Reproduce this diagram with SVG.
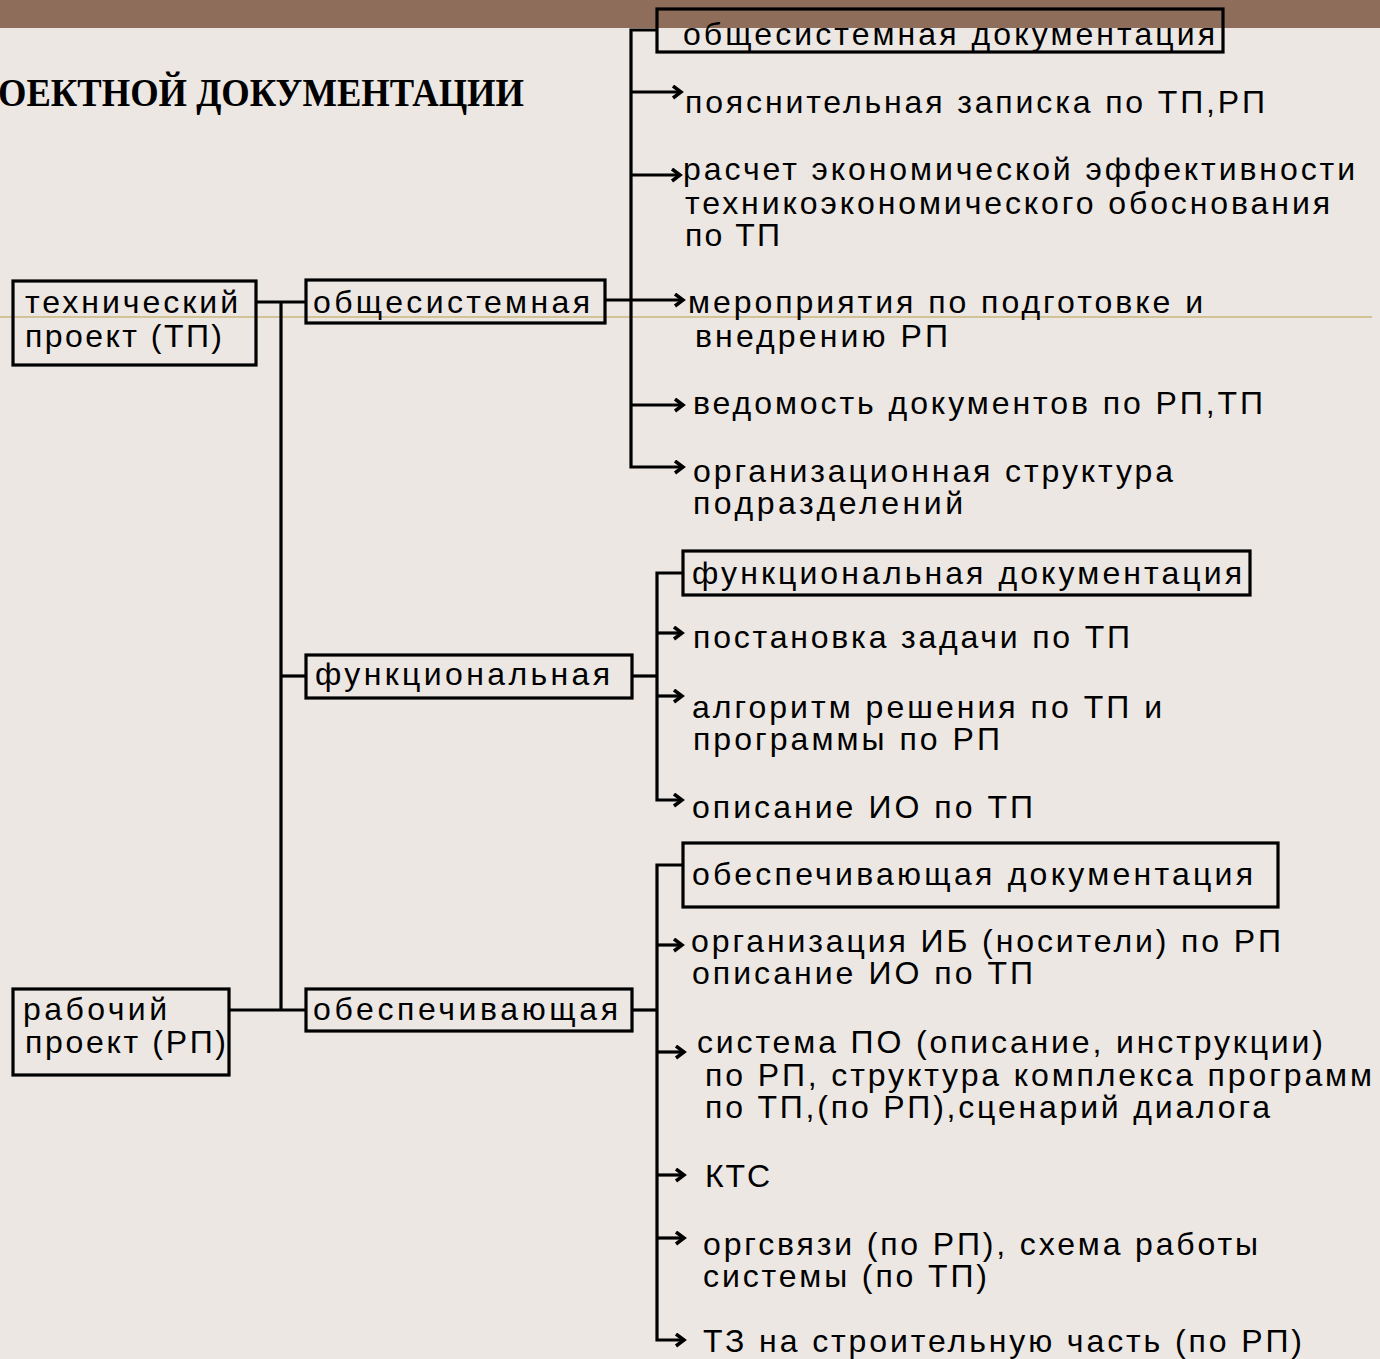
<svg xmlns="http://www.w3.org/2000/svg" width="1380" height="1359" viewBox="0 0 1380 1359">
<defs>
<style>
.t{font-family:"Liberation Sans",Arial,sans-serif;font-size:32px;fill:#000}
.box{fill:none;stroke:#000;stroke-width:3.2}
.c{fill:none;stroke:#000;stroke-width:3.2}
.title{font-family:"Liberation Serif","Times New Roman",serif;font-weight:bold;font-size:40px;fill:#000}
</style>
<marker id="ah" markerUnits="userSpaceOnUse" markerWidth="16" markerHeight="16" refX="11" refY="7" orient="auto">
<path d="M3,1 L11,7 L3,13" fill="none" stroke="#000" stroke-width="3.5"/>
</marker>
</defs>
<rect x="0" y="0" width="1380" height="1359" fill="#ECE7E3"/>
<rect x="0" y="0" width="1380" height="28" fill="#8E6E5A"/>
<line x1="0" y1="317" x2="1372" y2="317" stroke="#C8B77C" stroke-width="1.5"/>
<text class="title" x="-2" y="106" textLength="526" lengthAdjust="spacingAndGlyphs">ОЕКТНОЙ ДОКУМЕНТАЦИИ</text>

<g id="connectors">
<path class="c" d="M256,302 H306"/>
<path class="c" d="M281,302 V1010"/>
<path class="c" d="M229,1010 H306"/>
<path class="c" d="M281,676 H306"/>
<path class="c" d="M605,300 H683" marker-end="url(#ah)"/>
<path class="c" d="M657,30 H631 V467 H683" marker-end="url(#ah)"/>
<path class="c" d="M631,92 H681" marker-end="url(#ah)"/>
<path class="c" d="M631,175 H680" marker-end="url(#ah)"/>
<path class="c" d="M631,405 H683" marker-end="url(#ah)"/>
<path class="c" d="M632,676 H657"/>
<path class="c" d="M683,573 H657 V800 H682" marker-end="url(#ah)"/>
<path class="c" d="M657,633 H682" marker-end="url(#ah)"/>
<path class="c" d="M657,696 H682" marker-end="url(#ah)"/>
<path class="c" d="M632,1010 H657"/>
<path class="c" d="M683,865 H657 V1340 H684" marker-end="url(#ah)"/>
<path class="c" d="M657,945 H682" marker-end="url(#ah)"/>
<path class="c" d="M657,1052 H684" marker-end="url(#ah)"/>
<path class="c" d="M657,1175 H684" marker-end="url(#ah)"/>
<path class="c" d="M657,1238 H684" marker-end="url(#ah)"/>
</g>

<g id="tp">
<rect class="box" x="13" y="281" width="243" height="84"/>
<text class="t" x="25" y="313" textLength="213" lengthAdjust="spacing">технический</text>
<text class="t" x="25" y="347" textLength="197" lengthAdjust="spacing">проект (ТП)</text>
</g>
<g id="rp">
<rect class="box" x="13" y="989" width="216" height="86"/>
<text class="t" x="23" y="1020" textLength="144" lengthAdjust="spacing">рабочий</text>
<text class="t" x="25" y="1053" textLength="201" lengthAdjust="spacing">проект (РП)</text>
</g>
<g id="obshch">
<rect class="box" x="306" y="280" width="299" height="43"/>
<text class="t" x="313" y="313" textLength="277" lengthAdjust="spacing">общесистемная</text>
</g>
<g id="func">
<rect class="box" x="306" y="655" width="326" height="43"/>
<text class="t" x="315" y="685" textLength="295" lengthAdjust="spacing">функциональная</text>
</g>
<g id="obesp">
<rect class="box" x="306" y="989" width="326" height="42"/>
<text class="t" x="313" y="1020" textLength="305" lengthAdjust="spacing">обеспечивающая</text>
</g>

<g id="obshch-doc">
<rect class="box" x="657" y="9" width="566" height="43"/>
<text class="t" x="683" y="45" textLength="532" lengthAdjust="spacing">общесистемная документация</text>
</g>
<g id="o1"><text class="t" x="685" y="113" textLength="580" lengthAdjust="spacing">пояснительная записка по ТП,РП</text></g>
<g id="o2">
<text class="t" x="683" y="180" textLength="672" lengthAdjust="spacing">расчет экономической эффективности</text>
<text class="t" x="685" y="214" textLength="645" lengthAdjust="spacing">техникоэкономического обоснования</text>
<text class="t" x="685" y="246" textLength="95" lengthAdjust="spacing">по ТП</text>
</g>
<g id="o3">
<text class="t" x="688" y="313" textLength="515" lengthAdjust="spacing">мероприятия по подготовке и</text>
<text class="t" x="695" y="347" textLength="253" lengthAdjust="spacing">внедрению РП</text>
</g>
<g id="o4"><text class="t" x="693" y="414" textLength="570" lengthAdjust="spacing">ведомость документов по РП,ТП</text></g>
<g id="o5">
<text class="t" x="693" y="482" textLength="480" lengthAdjust="spacing">организационная структура</text>
<text class="t" x="693" y="514" textLength="270" lengthAdjust="spacing">подразделений</text>
</g>

<g id="func-doc">
<rect class="box" x="683" y="551" width="567" height="44"/>
<text class="t" x="692" y="584" textLength="550" lengthAdjust="spacing">функциональная документация</text>
</g>
<g id="f1"><text class="t" x="693" y="648" textLength="437" lengthAdjust="spacing">постановка задачи по ТП</text></g>
<g id="f2">
<text class="t" x="692" y="718" textLength="470" lengthAdjust="spacing">алгоритм решения по ТП и</text>
<text class="t" x="693" y="750" textLength="307" lengthAdjust="spacing">программы по РП</text>
</g>
<g id="f3"><text class="t" x="692" y="818" textLength="341" lengthAdjust="spacing">описание ИО по ТП</text></g>

<g id="obesp-doc">
<rect class="box" x="683" y="843" width="595" height="64"/>
<text class="t" x="692" y="885" textLength="561" lengthAdjust="spacing">обеспечивающая документация</text>
</g>
<g id="e1">
<text class="t" x="691" y="952" textLength="590" lengthAdjust="spacing">организация ИБ (носители) по РП</text>
<text class="t" x="692" y="984" textLength="341" lengthAdjust="spacing">описание ИО по ТП</text>
</g>
<g id="e2">
<text class="t" x="697" y="1053" textLength="626" lengthAdjust="spacing">система ПО (описание, инструкции)</text>
<text class="t" x="705" y="1086" textLength="667" lengthAdjust="spacing">по РП, структура комплекса программ</text>
<text class="t" x="705" y="1118" textLength="565" lengthAdjust="spacing">по ТП,(по РП),сценарий диалога</text>
</g>
<g id="e3"><text class="t" x="705" y="1187" textLength="65" lengthAdjust="spacing">КТС</text></g>
<g id="e4">
<text class="t" x="703" y="1255" textLength="555" lengthAdjust="spacing">оргсвязи (по РП), схема работы</text>
<text class="t" x="703" y="1287" textLength="284" lengthAdjust="spacing">системы (по ТП)</text>
</g>
<g id="e5"><text class="t" x="703" y="1352" textLength="599" lengthAdjust="spacing">ТЗ на строительную часть (по РП)</text></g>
</svg>
